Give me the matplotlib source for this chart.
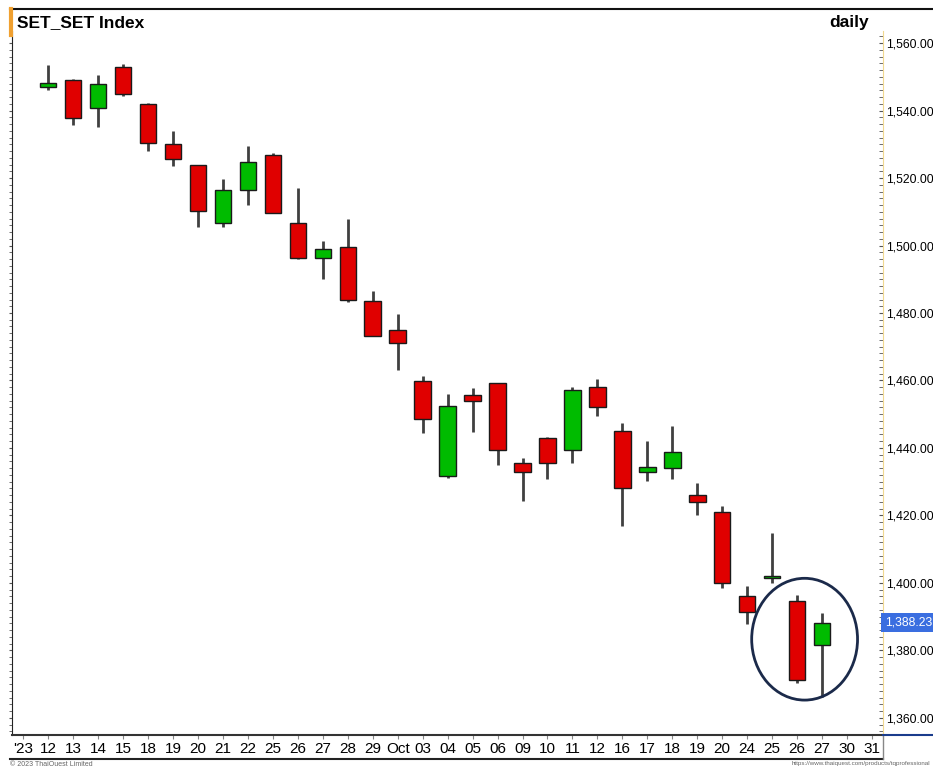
import matplotlib
matplotlib.use("Agg")
import matplotlib.pyplot as plt
import numpy as np
from matplotlib.lines import Line2D
from matplotlib.patches import Ellipse
from matplotlib.ticker import MultipleLocator, FuncFormatter

plt.rcParams['font.family'] = ['Liberation Sans Narrow', 'Liberation Sans', 'DejaVu Sans']

# x axis labels (trading days, Sep-Oct 2023)
date_labels = ["'23", "12", "13", "14", "15", "18", "19", "20", "21", "22", "25", "26", "27",
               "28", "29", "Oct", "03", "04", "05", "06", "09", "10", "11", "12", "16", "17",
               "18", "19", "20", "24", "25", "26", "27", "30", "31"]

# daily OHLC, starting at Sep 12 (label index 1)
opens = [1546.9, 1549.2, 1540.7, 1552.9, 1542.0, 1530.1, 1523.8, 1506.7, 1516.4, 1526.8,
         1506.7, 1496.3, 1499.7, 1483.6, 1475.0, 1459.8, 1431.8, 1455.7, 1459.2, 1435.6,
         1442.9, 1439.3, 1458.2, 1445.0, 1432.9, 1434.1, 1425.9, 1421.0, 1396.1, 1401.5,
         1394.7, 1381.7]
highs = [1553.4, 1549.3, 1550.5, 1553.9, 1542.2, 1534.1, 1524.0, 1519.7, 1529.6, 1527.3,
         1517.2, 1501.2, 1507.8, 1486.4, 1479.7, 1461.4, 1455.9, 1457.8, 1459.3, 1436.9,
         1443.2, 1458.0, 1460.4, 1447.3, 1442.1, 1446.5, 1429.7, 1422.9, 1399.1, 1414.8,
         1396.5, 1391.0]
lows = [1546.2, 1535.6, 1535.2, 1544.3, 1528.0, 1523.7, 1505.5, 1505.5, 1511.9, 1509.5,
        1495.9, 1490.0, 1483.4, 1473.2, 1463.2, 1444.4, 1431.1, 1444.6, 1434.9, 1424.4,
        1430.7, 1435.4, 1449.6, 1417.0, 1430.1, 1430.9, 1420.2, 1398.4, 1387.9, 1400.1,
        1370.3, 1366.3]
closes = [1548.2, 1537.9, 1548.0, 1545.0, 1530.3, 1525.6, 1510.2, 1516.4, 1524.8, 1509.7,
          1496.2, 1499.0, 1483.8, 1473.3, 1471.1, 1448.7, 1452.5, 1453.9, 1439.5, 1432.8,
          1435.5, 1457.1, 1452.2, 1428.2, 1434.3, 1438.8, 1423.9, 1399.9, 1391.5, 1402.0,
          1371.3, 1388.23]
last_price = 1388.23

W, H = 933, 766


def px(x, y):
    # pixel coords (top-left origin) -> figure fraction
    return x / W, 1 - y / H


fig = plt.figure(figsize=(W / 100, H / 100), dpi=100)
ax = fig.add_axes([12 / W, 31 / H, 871 / W, 704 / H])

idx = np.arange(1, len(opens) + 1)
o = np.array(opens)
c = np.array(closes)
up = c >= o
body_col = np.where(up, '#00bb00', '#e00000')
bottoms = np.minimum(o, c)
heights = np.maximum(np.abs(c - o), 0.4)

ax.vlines(idx, lows, highs, color='#404040', lw=2, zorder=2)
ax.bar(idx, heights, bottom=bottoms, width=0.66, color=body_col,
       edgecolor='#1a1a1a', linewidth=1, zorder=3)

# highlight circle round the last two candles
ax.add_patch(Ellipse((31.3, 1383.3), 4.24, 36.1, fill=False,
                     edgecolor='#1b2a4a', lw=2, zorder=4))

ax.set_xlim(-0.45, 34.44)
ax.set_ylim(1354.9, 1563.6)
ax.set_xticks(range(len(date_labels)))
ax.set_xticklabels(date_labels, fontsize=11)
ax.tick_params(axis='x', direction='out', length=3, color='#888888', pad=2)

ax.yaxis.set_major_locator(MultipleLocator(20))
ax.yaxis.set_minor_locator(MultipleLocator(2))
ax.tick_params(axis='y', which='both', direction='out', length=2, color='#555555',
               labelleft=False)

ax.spines['top'].set_visible(False)
ax.spines['right'].set_visible(False)
ax.spines['left'].set_color('#222222')
ax.spines['bottom'].set_color('#333333')
ax.spines['bottom'].set_linewidth(1.5)

# right-hand price axis
ax2 = ax.twinx()
ax2.set_ylim(ax.get_ylim())
ax2.yaxis.set_major_locator(MultipleLocator(20))
ax2.yaxis.set_minor_locator(MultipleLocator(2))
ax2.yaxis.set_major_formatter(FuncFormatter(lambda v, p: f"{v:,.2f}"))
ax2.tick_params(axis='y', which='both', direction='in', length=3, color='#555555',
                labelsize=8.8, pad=2)
for s in ['top', 'left', 'bottom']:
    ax2.spines[s].set_visible(False)
ax2.spines['right'].set_color('#f0d890')

ax2.text(1.002, last_price, f"{last_price:,.2f}", transform=ax2.get_yaxis_transform(),
         ha='left', va='center', color='white', fontsize=8.8, clip_on=False,
         bbox=dict(boxstyle='square,pad=0.3', fc='#3a6ee0', ec='none'))

# frame lines round the chart
fig.add_artist(Line2D(*zip(px(10, 9), px(933, 9)), color='#111111', lw=1.5))
fig.add_artist(Line2D(*zip(px(11, 9), px(11, 35)), color='#f0a030', lw=3))
fig.add_artist(Line2D(*zip(px(10, 759), px(883, 759)), color='#222222', lw=1.5))
fig.add_artist(Line2D(*zip(px(883, 735), px(883, 759)), color='#888888', lw=1))
fig.add_artist(Line2D(*zip(px(883, 735), px(933, 735)), color='#1a3c8c', lw=1.5))

fig.text(*px(17, 23), "SET_SET Index", fontsize=12.5, fontweight='bold', va='center')
fig.text(*px(869, 23), "daily", fontsize=12.5, fontweight='bold', va='center', ha='right')
fig.text(*px(10, 764), "\u00a9 2023 ThaiQuest Limited", fontsize=5, color='#666666', va='center')
fig.text(*px(930, 764), "https://www.thaiquest.com/products/tqprofessional", fontsize=4.5,
         color='#666666', va='center', ha='right')

fig.savefig("out.png", dpi=100)
